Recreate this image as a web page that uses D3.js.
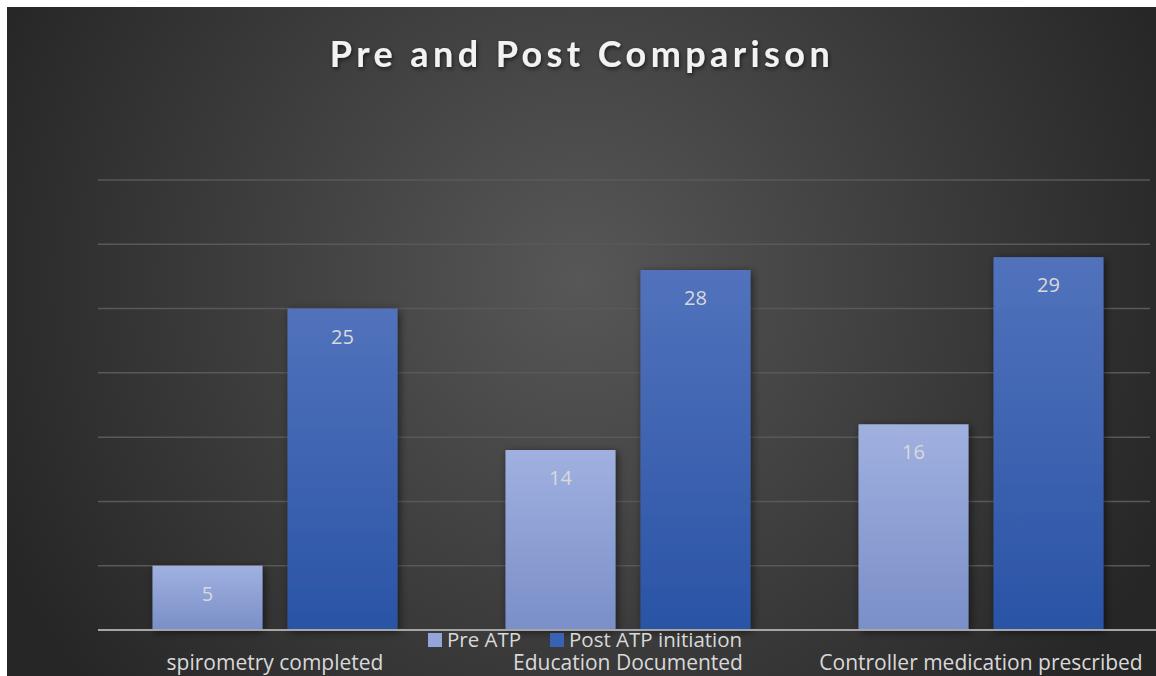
<!DOCTYPE html>
<html>
<head>
<meta charset="utf-8">
<script src="https://cdn.jsdelivr.net/npm/d3@7"></script>
<style>
	body { margin: 0; background: #fff; }
	svg { display: block; }
</style>
</head>
<body>
<svg id="chart" width="1156" height="676"></svg>
<script>
const categories = ['spirometry completed', 'Education Documented', 'Controller medication prescribed'];
const seriesNames = ['Pre ATP', 'Post ATP initiation'];
const preValues = [5, 14, 16];
const postValues = [25, 28, 29];
const yTicks = [0, 5, 10, 15, 20, 25, 30, 35];

const width = 1156;
const height = 676;
const font = '"Open Sans", sans-serif';

let svg = d3.select('#chart');
let defs = svg.append('defs');

let bg = defs.append('radialGradient')
	.attr('id', 'bg')
	.attr('gradientUnits', 'userSpaceOnUse')
	.attr('cx', 580).attr('cy', 280).attr('r', 640);
bg.append('stop').attr('offset', '0%').attr('stop-color', '#575757');
bg.append('stop').attr('offset', '100%').attr('stop-color', '#262626');

let gPre = defs.append('linearGradient').attr('id', 'gPre').attr('x1', 0).attr('y1', 0).attr('x2', 0).attr('y2', 1);
gPre.append('stop').attr('offset', '0%').attr('stop-color', '#a0b1e0');
gPre.append('stop').attr('offset', '100%').attr('stop-color', '#7a8fc8');

let gPost = defs.append('linearGradient').attr('id', 'gPost').attr('x1', 0).attr('y1', 0).attr('x2', 0).attr('y2', 1);
gPost.append('stop').attr('offset', '0%').attr('stop-color', '#5272bc');
gPost.append('stop').attr('offset', '100%').attr('stop-color', '#2a54a6');

let shadow = defs.append('filter').attr('id', 'shadow')
	.attr('x', '-20%').attr('y', '-20%').attr('width', '140%').attr('height', '140%');
shadow.append('feDropShadow').attr('dx', 2).attr('dy', 2).attr('stdDeviation', 4)
	.attr('flood-color', '#000').attr('flood-opacity', 0.55);

let textShadow = defs.append('filter').attr('id', 'tshadow');
textShadow.append('feDropShadow').attr('dx', 1).attr('dy', 2).attr('stdDeviation', 2)
	.attr('flood-color', '#000').attr('flood-opacity', 0.6);

// background
svg.append('rect')
	.attr('x', 7).attr('y', 7)
	.attr('width', width - 7).attr('height', height - 7)
	.attr('fill', 'url(#bg)');

const x0 = d3.scaleBand()
	.domain(categories)
	.range([98.5, 1157.5])
	.paddingInner(108 / 353)
	.paddingOuter(54 / 353);

const x1 = d3.scaleBand()
	.domain(seriesNames)
	.range([0, x0.bandwidth()])
	.paddingInner(25 / 135);

const y = d3.scaleLinear()
	.domain([0, 35])
	.range([630, 180]);

const color = {'Pre ATP': 'url(#gPre)', 'Post ATP initiation': 'url(#gPost)'};
const swatch = {'Pre ATP': '#93a6da', 'Post ATP initiation': '#3a62b4'};

// gridlines
svg.append('g')
	.selectAll('line')
	.data(yTicks.slice(1))
	.enter()
	.append('line')
	.attr('x1', 98).attr('x2', 1150)
	.attr('y1', d => y(d)).attr('y2', d => y(d))
	.attr('stroke', '#595959')
	.attr('stroke-width', 1.5);

// title
svg.append('text')
	.attr('x', 582).attr('y', 67)
	.attr('text-anchor', 'middle')
	.attr('font-family', 'Lato, sans-serif')
	.attr('font-weight', 'bold')
	.attr('font-size', 36)
	.attr('letter-spacing', 4.4)
	.attr('fill', '#f2f2f2')
	.attr('filter', 'url(#tshadow)')
	.text('Pre and Post Comparison');

let rows = categories.map((c, i) => ({
	category: c,
	values: [
		{series: seriesNames[0], value: preValues[i]},
		{series: seriesNames[1], value: postValues[i]}
	]
}));

let groups = svg.append('g')
	.selectAll('g')
	.data(rows)
	.enter()
	.append('g')
	.attr('transform', d => `translate(${x0(d.category)},0)`);

groups.selectAll('rect')
	.data(d => d.values)
	.enter()
	.append('rect')
	.attr('x', d => x1(d.series))
	.attr('y', d => y(d.value))
	.attr('width', x1.bandwidth())
	.attr('height', d => y(0) - y(d.value))
	.attr('fill', d => color[d.series])
	.attr('filter', 'url(#shadow)');

groups.selectAll('text')
	.data(d => d.values)
	.enter()
	.append('text')
	.attr('x', d => x1(d.series) + x1.bandwidth() / 2)
	.attr('y', d => y(d.value) + 35)
	.attr('text-anchor', 'middle')
	.attr('font-family', font)
	.attr('font-size', 20)
	.attr('fill', '#d9d9d9')
	.text(d => d.value);

// baseline
svg.append('line')
	.attr('x1', 98).attr('x2', 1156)
	.attr('y1', y(0)).attr('y2', y(0))
	.attr('stroke', '#a6a6a6')
	.attr('stroke-width', 2);

// category labels
svg.append('g')
	.selectAll('text')
	.data(categories)
	.enter()
	.append('text')
	.attr('x', d => x0(d) + x0.bandwidth() / 2)
	.attr('y', 670)
	.attr('text-anchor', 'middle')
	.attr('font-family', font)
	.attr('font-size', 21)
	.attr('fill', '#d9d9d9')
	.text(d => d);

// legend
const legendX = [428, 550];
let legend = svg.append('g')
	.selectAll('g')
	.data(seriesNames)
	.enter()
	.append('g')
	.attr('transform', (d, i) => `translate(${legendX[i]},633)`);

legend.append('rect')
	.attr('width', 14).attr('height', 14)
	.attr('fill', d => swatch[d]);

legend.append('text')
	.attr('x', 19).attr('y', 13.5)
	.attr('font-family', font)
	.attr('font-size', 20.5)
	.attr('fill', '#d9d9d9')
	.text(d => d);
</script>
</body>
</html>
